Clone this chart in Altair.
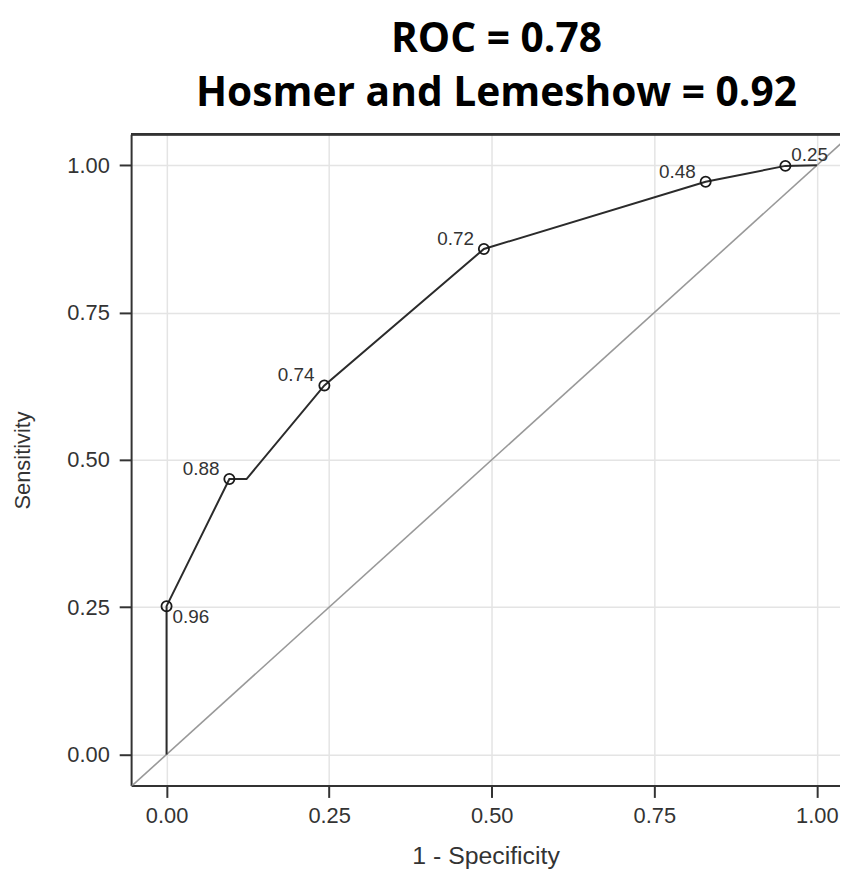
import altair as alt
import pandas as pd

# ROC curve vertices (1 - specificity, sensitivity)
curve_fpr = [0.0, 0.0, 0.0966, 0.123, 0.2427, 0.488, 0.829, 0.9516, 1.0]
curve_tpr = [0.0, 0.2517, 0.4675, 0.4675, 0.6264, 0.858, 0.972, 0.999, 1.0]

# labelled cut-off points
cut_fpr = [0.0, 0.0966, 0.2427, 0.488, 0.829, 0.9516]
cut_tpr = [0.2517, 0.4675, 0.6264, 0.858, 0.972, 0.999]
cut_lab = ["0.96", "0.88", "0.74", "0.72", "0.48", "0.25"]

# reference diagonal
diag_v = [-0.1, 1.1]

tick_vals = [0.0, 0.25, 0.5, 0.75, 1.0]
title_lines = ["ROC = 0.78", "Hosmer and Lemeshow = 0.92"]

W, H = 714, 656

curve = pd.DataFrame({"fpr": curve_fpr, "tpr": curve_tpr, "order": list(range(len(curve_fpr)))})
cuts = pd.DataFrame({"fpr": cut_fpr, "tpr": cut_tpr, "lab": cut_lab})
diag = pd.DataFrame({"fpr": diag_v, "tpr": diag_v})

xs = alt.Scale(domain=[-0.0545, 1.0356], nice=False, zero=False)
ys = alt.Scale(domain=[-0.0527, 1.0528], nice=False, zero=False)

lab_font = "Liberation Sans"
x_axis = alt.Axis(values=tick_vals, format=".2f", grid=True, gridColor="#e4e4e4", gridWidth=1.5,
                  domainColor="#333333", domainWidth=2, tickColor="#333333", tickWidth=2, tickSize=12,
                  labelFont=lab_font, labelFontSize=22, labelColor="#333333", labelPadding=8,
                  titleFont=lab_font, titleFontSize=25, titleFontWeight="normal", titleColor="#333333",
                  titlePadding=18)
y_axis = alt.Axis(values=tick_vals, format=".2f", grid=True, gridColor="#e4e4e4", gridWidth=1.5,
                  domainColor="#333333", domainWidth=2, tickColor="#333333", tickWidth=2, tickSize=12,
                  labelFont=lab_font, labelFontSize=22, labelColor="#333333", labelPadding=10,
                  titleFont=lab_font, titleFontSize=22, titleFontWeight="normal", titleColor="#333333",
                  titlePadding=33)

X = alt.X("fpr:Q", scale=xs, axis=x_axis, title="1 - Specificity")
Y = alt.Y("tpr:Q", scale=ys, axis=y_axis, title="Sensitivity")

diag_layer = alt.Chart(diag).mark_line(color="#999999", strokeWidth=1.6, clip=True).encode(x=X, y=Y)
curve_layer = alt.Chart(curve).mark_line(color="#2b2b2b", strokeWidth=2).encode(x=X, y=Y, order="order:Q")
pts = alt.Chart(cuts).mark_point(shape="circle", filled=False, size=105, color="#1a1a1a",
                                 strokeWidth=1.8, opacity=1).encode(x=X, y=Y)

txt_common = dict(font=lab_font, fontSize=19, color="#333333", baseline="middle")
txt_left = alt.Chart(cuts).transform_filter(
    alt.FieldOneOfPredicate(field="lab", oneOf=["0.88", "0.74", "0.72", "0.48"])
).mark_text(align="right", dx=-10, dy=-10, **txt_common).encode(x=X, y=Y, text="lab:N")
txt_low = alt.Chart(cuts).transform_filter(
    alt.FieldEqualPredicate(field="lab", equal="0.96")
).mark_text(align="left", dx=6, dy=11, **txt_common).encode(x=X, y=Y, text="lab:N")
txt_high = alt.Chart(cuts).transform_filter(
    alt.FieldEqualPredicate(field="lab", equal="0.25")
).mark_text(align="left", dx=6, dy=-11, **txt_common).encode(x=X, y=Y, text="lab:N")

top_frame = alt.Chart(cuts).mark_rule(color="#333333", strokeWidth=2).encode(
    x=alt.value(0), x2=alt.value(W), y=alt.value(0))

chart = alt.layer(diag_layer, curve_layer, pts, txt_left, txt_low, txt_high, top_frame).properties(
    width=W, height=H,
    title=alt.TitleParams(title_lines, font="Open Sans", fontWeight="bold", fontSize=41, lineHeight=55,
                          color="#000000", anchor="middle", frame="group", offset=18, dx=11),
    autosize=alt.AutoSizeParams(type="none"),
    padding={"left": 124, "top": 124, "right": 0, "bottom": 82},
).configure_view(stroke=None)

chart.save("out.html", embed_options={"renderer": "svg", "actions": False})
